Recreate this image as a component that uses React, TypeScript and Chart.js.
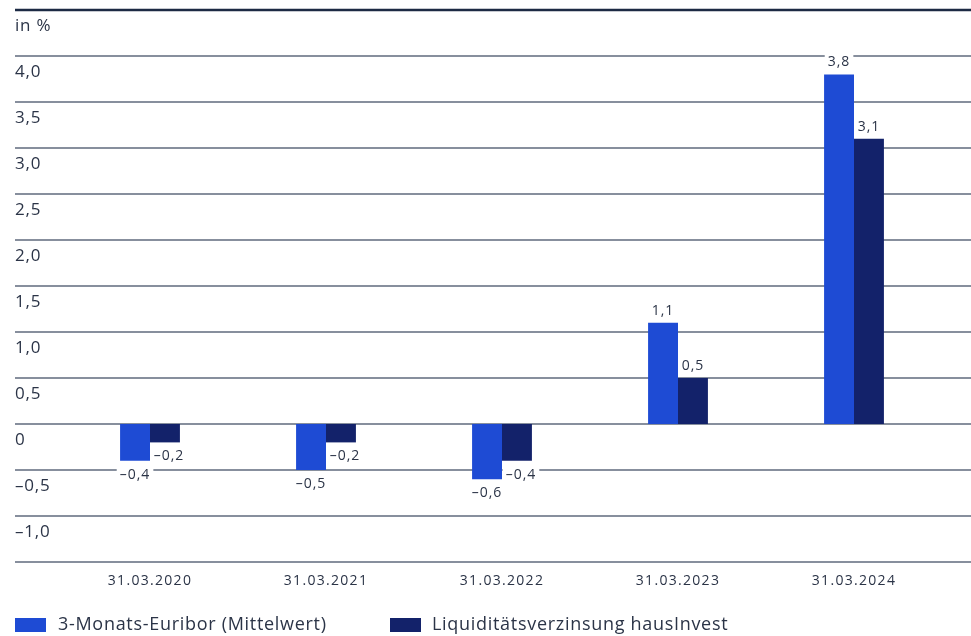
import React, { useEffect, useRef } from "react";
import { Chart, registerables } from "chart.js";
Chart.register(...registerables);

const categories = ["31.03.2020", "31.03.2021", "31.03.2022", "31.03.2023", "31.03.2024"];
const euribor = [-0.4, -0.5, -0.6, 1.1, 3.8];
const liquiditaet = [-0.2, -0.2, -0.4, 0.5, 3.1];
const seriesNames = ["3-Monats-Euribor (Mittelwert)", "Liquiditätsverzinsung hausInvest"];
const yTicks = [4.5, 4.0, 3.5, 3.0, 2.5, 2.0, 1.5, 1.0, 0.5, 0, -0.5, -1.0, -1.5];
const yTickLabels = ["in %", "4,0", "3,5", "3,0", "2,5", "2,0", "1,5", "1,0", "0,5", "0", "–0,5", "–1,0", ""];

const BLUE = "#1e4bd4";
const NAVY = "#13226a";
const TEXT = "#2b3447";
const FONT = "'Open Sans', sans-serif";

const fmt = (v: number) => (v < 0 ? "–" : "") + Math.abs(v).toFixed(1).replace(".", ",");

function eachLabel(chart: any, fn: (t: string, x: number, y: number) => void) {
  chart.data.datasets.forEach((ds: any, di: number) => {
    const meta = chart.getDatasetMeta(di);
    meta.data.forEach((bar: any, i: number) => {
      const v = ds.data[i];
      const cy = v >= 0 ? bar.y - 12 : bar.y + 14;
      const dx = v < 0 && di === 1 ? 4 : 0;
      fn(fmt(v), bar.x + dx, cy);
    });
  });
}

const customPlugin = {
  id: "custom",
  beforeDatasetsDraw(chart: any) {
    const ctx = chart.ctx;
    const y = chart.scales.y;
    const W = chart.width;
    ctx.save();
    yTicks.forEach((v, i) => {
      const py = Math.round(y.getPixelForValue(v));
      if (i === 0) {
        ctx.strokeStyle = "#1c2a44";
        ctx.lineWidth = 2.5;
      } else {
        ctx.strokeStyle = "#5f6a7d";
        ctx.lineWidth = 1.5;
      }
      ctx.beginPath();
      ctx.moveTo(15, py);
      ctx.lineTo(W, py);
      ctx.stroke();
      const lab = yTickLabels[i];
      if (lab) {
        ctx.fillStyle = TEXT;
        ctx.font = `17px ${FONT}`;
        ctx.letterSpacing = "0.8px";
        ctx.textAlign = "left";
        ctx.textBaseline = "middle";
        ctx.fillText(lab, 15, py + 16);
      }
    });
    // white backgrounds behind data labels (under bars)
    ctx.font = `14px ${FONT}`;
    ctx.letterSpacing = "1px";
    ctx.fillStyle = "#ffffff";
    eachLabel(chart, (t, bx, cy) => {
      const w = ctx.measureText(t).width;
      ctx.fillRect(bx - w / 2 - 3, cy - 9, w + 6, 18);
    });
    ctx.restore();
  },
  afterDatasetsDraw(chart: any) {
    const ctx = chart.ctx;
    const x = chart.scales.x;
    ctx.save();
    ctx.font = `14px ${FONT}`;
    ctx.letterSpacing = "1px";
    ctx.textAlign = "center";
    ctx.textBaseline = "middle";
    ctx.fillStyle = TEXT;
    eachLabel(chart, (t, bx, cy) => {
      ctx.fillText(t, bx, cy);
    });
    // x labels
    ctx.letterSpacing = "1.3px";
    categories.forEach((c, i) => {
      ctx.fillText(c, x.getPixelForValue(i), 581);
    });
    // legend
    const items = [
      { name: seriesNames[0], color: BLUE, bx: 15, tx: 58 },
      { name: seriesNames[1], color: NAVY, bx: 390, tx: 432 },
    ];
    ctx.font = `18px ${FONT}`;
    ctx.letterSpacing = "0.7px";
    ctx.textAlign = "left";
    items.forEach((it) => {
      ctx.fillStyle = it.color;
      ctx.fillRect(it.bx, 618, 31, 14);
      ctx.fillStyle = TEXT;
      ctx.fillText(it.name, it.tx, 625);
    });
    ctx.restore();
  },
};

export default function App() {
  const ref = useRef<HTMLCanvasElement>(null);
  useEffect(() => {
    if (!ref.current) return;
    const chart = new Chart(ref.current, {
      type: "bar",
      data: {
        labels: categories,
        datasets: [
          { label: seriesNames[0], data: euribor, backgroundColor: BLUE, categoryPercentage: 0.34, barPercentage: 1 },
          { label: seriesNames[1], data: liquiditaet, backgroundColor: NAVY, categoryPercentage: 0.34, barPercentage: 1 },
        ],
      },
      options: {
        animation: false,
        responsive: false,
        maintainAspectRatio: false,
        layout: { padding: { left: 62, right: 29, top: 10, bottom: 74 } },
        plugins: { legend: { display: false }, tooltip: { enabled: false } },
        scales: {
          x: { display: false },
          y: { display: false, min: -1.5, max: 4.5 },
        },
      },
      plugins: [customPlugin],
    });
    return () => chart.destroy();
  }, []);
  return (
    <canvas
      ref={ref}
      width={971}
      height={636}
      style={{ position: "fixed", left: 0, top: 0, width: 971, height: 636, background: "#fff" }}
    />
  );
}
